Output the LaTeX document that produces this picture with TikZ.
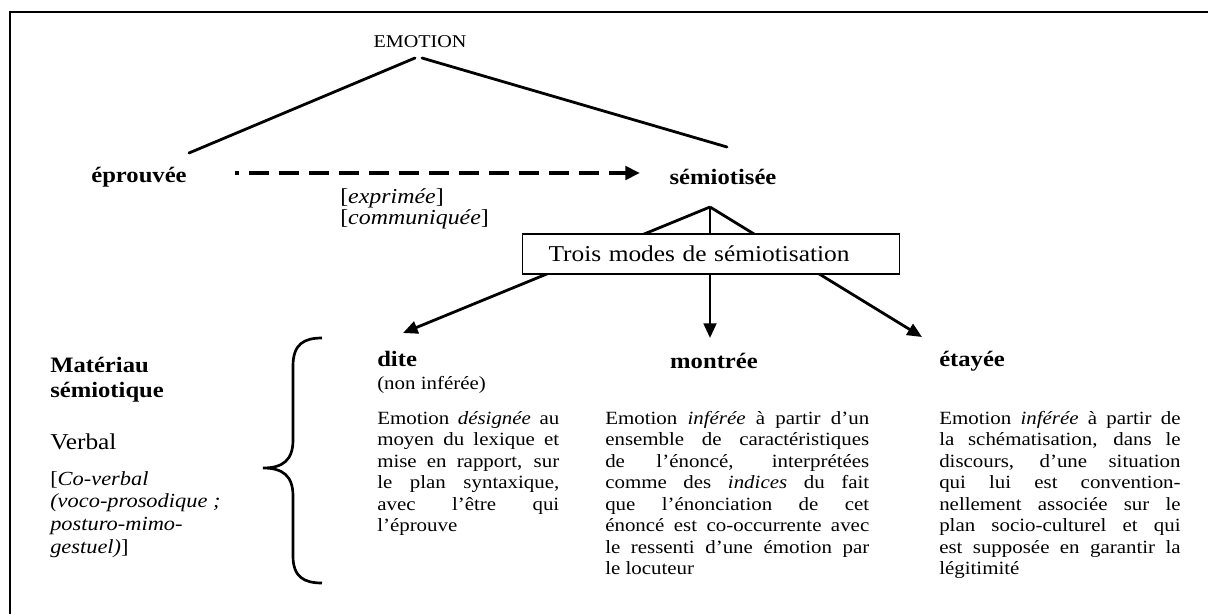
\documentclass[tikz,border=0pt]{standalone}
\usepackage{fontspec}
\setmainfont{Liberation Serif}[FakeStretch=1.12]
\usetikzlibrary{arrows.meta}
\newcommand\JL[2]{\makebox[#1][s]{#2}}
\begin{document}
\begin{tikzpicture}[x=0.75pt,y=-0.75pt,
  lbl/.style={font=\fontsize{16.5}{19}\selectfont\bfseries, inner sep=0pt},
  body/.style={font=\fontsize{14}{16.1}\selectfont, inner sep=0pt, anchor=north west, align=left},
  link/.style={line width=2.1pt, line cap=round},
  arr/.style={line width=2.1pt, -{Triangle[length=11pt,width=9.5pt]}},
  frame/.style={line width=2pt},
  modebox/.style={draw, line width=0.8pt, fill=white, anchor=west, minimum height=30pt,
     inner xsep=19.5pt, text width=244pt, align=left, font=\fontsize{17}{19}\selectfont}
]
\useasboundingbox (0,0) rectangle (1208,614);
\draw[frame] (10,614) -- (10,12) -- (1208,12);

% top labels
\node[inner sep=0pt, font=\fontsize{13.5}{15}\selectfont] (emotion) at (420,42) {EMOTION};
\node[lbl] (eprouvee) at (139,177) {éprouvée};
\node[lbl] (semiot) at (723,177) {sémiotisée};
\node[inner sep=0pt, anchor=north west, align=left, font=\fontsize{16}{16}\selectfont] (exprim) at (340,188)
  {{[}\textit{exprimée}{]}\\{[}\textit{communiquée}{]}};

% connectors from EMOTION
\coordinate (el1) at (415,58);
\coordinate (el2) at (189,153);
\coordinate (er1) at (422,58);
\coordinate (er2) at (727,147);
\draw[link] (el1) -- (el2);
\draw[link] (er1) -- (er2);

% dashed arrow
\coordinate (da) at (235,173);
\coordinate (db) at (640,173);
\draw[line width=2.8pt, dash pattern=on 15pt off 7.5pt, dash phase=12pt, -{Triangle[length=11pt,width=10pt]}] (da) -- (db);

% modes
\node[lbl, anchor=west] (dite) at (377,359) {dite};
\node[inner sep=0pt, anchor=west, font=\fontsize{14}{16}\selectfont] (noninf) at (377,385) {(non inférée)};
\node[lbl] (montree) at (714,361) {montrée};
\node[lbl, anchor=west] (etayee) at (939,361) {étayée};

\coordinate (apex) at (710,207);
\coordinate (tipd) at (403,333);
\coordinate (tipm) at (710,338);
\coordinate (tipe) at (922,337);
\draw[arr] (apex) -- (tipd);
\draw[arr] (apex) -- (tipm);
\draw[arr] (apex) -- (tipe);

\node[modebox] (modes) at (522,254) {Trois modes de sémiotisation};

% left column
\node[lbl, anchor=west] (mat) at (50,365) {Matériau};
\node[lbl, anchor=west] (semq) at (50,392) {sémiotique};
\node[inner sep=0pt, anchor=west, font=\fontsize{17}{19}\selectfont] (verbal) at (50,442) {Verbal};
\node[inner sep=0pt, anchor=north west, align=left, font=\fontsize{15}{17}\selectfont] (coverb) at (50,471)
  {{[}\textit{Co-verbal}\\\textit{(voco-prosodique ;}\\\textit{posturo-mimo-}\\\textit{gestuel)}{]}};

% brace
\draw[line width=2pt] (322,338) .. controls (304,338) and (293,344) .. (293,366)
  -- (293,440) .. controls (293,460) and (283,468) .. (263,468)
  .. controls (283,468) and (293,476) .. (293,496)
  -- (293,556) .. controls (293,577) and (304,583) .. (322,583);

% paragraphs
\node[body] (p1) at (377,411) {%
\JL{136.5pt}{Emotion \textit{désignée} au}\\
\JL{136.5pt}{moyen du lexique et}\\
\JL{136.5pt}{mise en rapport, sur}\\
\JL{136.5pt}{le plan syntaxique,}\\
\JL{136.5pt}{avec l’être qui}\\
l’éprouve};

\node[body] (p2) at (605,411) {%
\JL{198pt}{Emotion \textit{inférée} à partir d’un}\\
\JL{198pt}{ensemble de caractéristiques}\\
\JL{198pt}{de l’énoncé, interprétées}\\
\JL{198pt}{comme des \textit{indices} du fait}\\
\JL{198pt}{que l’énonciation de cet}\\
\JL{198pt}{énoncé est co-occurrente avec}\\
\JL{198pt}{le ressenti d’une émotion par}\\
le locuteur};

\node[body] (p3) at (939,411) {%
\JL{181pt}{Emotion \textit{inférée} à partir de}\\
\JL{181pt}{la schématisation, dans le}\\
\JL{181pt}{discours, d’une situation}\\
\JL{181pt}{qui lui est convention-}\\
\JL{181pt}{nellement associée sur le}\\
\JL{181pt}{plan socio-culturel et qui}\\
\JL{181pt}{est supposée en garantir la}\\
légitimité};
\end{tikzpicture}
\end{document}
